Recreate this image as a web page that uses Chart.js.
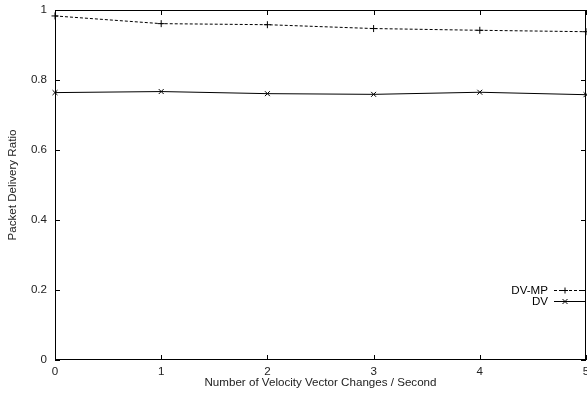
<!DOCTYPE html>
<html lang="en">
<head>
    <meta charset="UTF-8">
    <title>Packet Delivery Ratio</title>
    <script src="https://cdn.jsdelivr.net/npm/chart.js"></script>
    <style>
        html, body { margin: 0; padding: 0; background: white; }
        #wrap { width: 587px; height: 400px; }
    </style>
</head>
<body>
    <div id="wrap"><canvas id="chart" width="587" height="400"></canvas></div>
    <script>
        const xValues = [0, 1, 2, 3, 4, 5];
        const dvmpValues = [0.983, 0.961, 0.958, 0.947, 0.942, 0.938];
        const dvValues = [0.764, 0.767, 0.761, 0.759, 0.765, 0.758];
        const xTicks = [0, 1, 2, 3, 4, 5];
        const yTicks = [0, 0.2, 0.4, 0.6, 0.8, 1];
        const seriesNames = ["DV-MP", "DV"];

        const toPoints = (vals) => vals.map((v, i) => ({ x: xValues[i], y: v }));
        const font = { family: "'Liberation Sans', Arial, sans-serif", size: 11.6 };

        // gnuplot-style frame with inward ticks on all sides, plus legend
        const framePlugin = {
            id: "frame",
            afterDraw(chart) {
                const { ctx, chartArea: a, scales } = chart;
                ctx.save();
                ctx.strokeStyle = "#000";
                ctx.lineWidth = 1;
                ctx.setLineDash([]);
                ctx.strokeRect(a.left + 0.5, a.top + 0.5, a.right - a.left - 1, a.bottom - a.top - 1);
                const len = 5;
                ctx.beginPath();
                xTicks.forEach(t => {
                    const px = Math.round(scales.x.getPixelForValue(t)) + 0.5;
                    ctx.moveTo(px, a.bottom); ctx.lineTo(px, a.bottom - len);
                    ctx.moveTo(px, a.top); ctx.lineTo(px, a.top + len);
                });
                yTicks.forEach(t => {
                    const py = Math.round(scales.y.getPixelForValue(t)) + 0.5;
                    ctx.moveTo(a.left, py); ctx.lineTo(a.left + len, py);
                    ctx.moveTo(a.right, py); ctx.lineTo(a.right - len, py);
                });
                ctx.stroke();

                // legend
                ctx.font = "11.6px 'Liberation Sans', Arial, sans-serif";
                ctx.fillStyle = "#000";
                ctx.textAlign = "right";
                ctx.textBaseline = "middle";
                const rows = [290, 301];
                chart.data.datasets.forEach((ds, i) => {
                    const y = rows[i] + 0.5;
                    ctx.fillText(seriesNames[i], a.right - 38, y);
                    ctx.beginPath();
                    ctx.setLineDash(ds.borderDash || []);
                    ctx.moveTo(a.right - 32, y);
                    ctx.lineTo(a.right, y);
                    ctx.stroke();
                    ctx.setLineDash([]);
                    const cx = a.right - 21, r = 3;
                    ctx.beginPath();
                    if (i === 0) {
                        ctx.moveTo(cx - r, y); ctx.lineTo(cx + r, y);
                        ctx.moveTo(cx, y - r); ctx.lineTo(cx, y + r);
                    } else {
                        ctx.moveTo(cx - 2.5, y - 2.5); ctx.lineTo(cx + 2.5, y + 2.5);
                        ctx.moveTo(cx - 2.5, y + 2.5); ctx.lineTo(cx + 2.5, y - 2.5);
                    }
                    ctx.stroke();
                });
                ctx.restore();
            }
        };

        new Chart(document.getElementById("chart"), {
            type: "line",
            data: {
                datasets: [
                    {
                        label: seriesNames[0],
                        data: toPoints(dvmpValues),
                        borderColor: "#000",
                        borderWidth: 1,
                        borderDash: [3, 2],
                        pointStyle: "cross",
                        pointRadius: 3.5,
                        pointBorderColor: "#000",
                        pointBorderWidth: 1,
                        tension: 0
                    },
                    {
                        label: seriesNames[1],
                        data: toPoints(dvValues),
                        borderColor: "#000",
                        borderWidth: 1,
                        pointStyle: "crossRot",
                        pointRadius: 3.5,
                        pointBorderColor: "#000",
                        pointBorderWidth: 1,
                        tension: 0
                    }
                ]
            },
            options: {
                responsive: false,
                animation: false,
                clip: false,
                layout: { autoPadding: false, padding: { top: 10, right: 1, left: 0, bottom: 0 } },
                plugins: { legend: { display: false }, tooltip: { enabled: false } },
                scales: {
                    x: {
                        type: "linear",
                        min: 0,
                        max: 5,
                        afterBuildTicks: s => { s.ticks = xTicks.map(v => ({ value: v })); },
                        afterFit: s => { s.height = 40; s.paddingLeft = 0; s.paddingRight = 0; },
                        grid: { display: false, drawTicks: false },
                        border: { display: false },
                        ticks: { font, color: "#222", padding: 5, maxRotation: 0 },
                        title: { display: true, text: "Number of Velocity Vector Changes / Second", font, color: "#222", padding: { top: 0, bottom: 10 } }
                    },
                    y: {
                        min: 0,
                        max: 1,
                        afterBuildTicks: s => { s.ticks = yTicks.map(v => ({ value: v })); },
                        afterFit: s => { s.width = 55; s.paddingTop = 0; s.paddingBottom = 0; },
                        grid: { display: false, drawTicks: false },
                        border: { display: false },
                        ticks: { font, color: "#222", padding: 8, callback: v => String(v) },
                        title: { display: true, text: "Packet Delivery Ratio", font, color: "#222", padding: { top: 6, bottom: 0 } }
                    }
                }
            },
            plugins: [framePlugin]
        });
    </script>
</body>
</html>
